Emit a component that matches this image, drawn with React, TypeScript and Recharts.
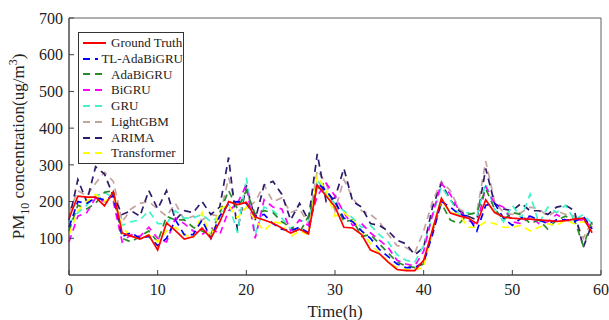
import React from 'react';
import {
  LineChart,
  Line,
  XAxis,
  YAxis,
  ReferenceArea
} from 'recharts';

const hours = Array.from({ length: 60 }, (_, i) => i);

const groundTruth = [155, 215, 212, 212, 188, 227, 114, 106, 98, 109, 68, 142, 121, 98, 104, 128, 100, 145, 200, 192, 198, 158, 150, 141, 128, 114, 125, 112, 245, 215, 186, 130, 128, 110, 68, 58, 35, 15, 12, 12, 40, 123, 209, 169, 161, 155, 140, 205, 170, 158, 155, 153, 152, 150, 148, 146, 148, 152, 155, 115];
const tlAdaBiGRU = [130, 200, 195, 210, 205, 215, 105, 115, 100, 105, 80, 100, 150, 110, 110, 150, 100, 160, 195, 200, 195, 160, 165, 140, 125, 120, 130, 115, 250, 230, 200, 155, 145, 120, 100, 70, 50, 30, 20, 20, 35, 110, 200, 185, 165, 160, 120, 190, 195, 155, 135, 155, 160, 150, 140, 150, 150, 145, 160, 125];
const adaBiGRU = [120, 190, 180, 195, 225, 230, 100, 90, 105, 120, 90, 160, 150, 150, 130, 120, 110, 170, 230, 180, 230, 165, 175, 170, 145, 130, 115, 160, 240, 225, 200, 145, 150, 105, 110, 85, 60, 35, 25, 20, 30, 120, 195, 150, 140, 165, 170, 235, 180, 150, 170, 165, 140, 150, 125, 150, 160, 150, 80, 145];
const biGRU = [90, 160, 170, 210, 200, 200, 90, 110, 105, 130, 100, 90, 155, 140, 120, 110, 130, 110, 175, 195, 245, 100, 205, 185, 180, 120, 150, 135, 215, 250, 215, 170, 135, 140, 115, 95, 75, 40, 30, 25, 65, 165, 250, 220, 175, 150, 135, 240, 195, 185, 145, 140, 160, 140, 145, 165, 150, 150, 150, 130];
const gru = [140, 170, 190, 215, 225, 210, 135, 145, 150, 175, 140, 140, 175, 155, 155, 165, 145, 160, 195, 115, 265, 110, 185, 175, 155, 125, 150, 140, 260, 220, 195, 175, 155, 130, 135, 110, 90, 55, 40, 35, 80, 160, 240, 205, 165, 170, 160, 250, 180, 145, 190, 155, 220, 140, 185, 170, 190, 150, 165, 140];
const lightGBM = [170, 230, 215, 250, 280, 255, 145, 180, 195, 200, 180, 160, 195, 150, 160, 150, 165, 160, 265, 175, 180, 200, 245, 200, 210, 170, 180, 140, 285, 250, 175, 260, 210, 175, 165, 145, 110, 80, 75, 60, 120, 200, 255, 230, 180, 165, 170, 310, 200, 170, 165, 170, 185, 180, 160, 175, 165, 160, 100, 145];
const arima = [150, 260, 200, 295, 275, 215, 165, 175, 160, 230, 180, 230, 150, 175, 170, 200, 165, 185, 320, 120, 245, 150, 245, 255, 220, 150, 195, 150, 330, 200, 210, 290, 200, 185, 140, 135, 120, 95, 85, 55, 75, 185, 250, 205, 175, 160, 150, 290, 195, 180, 175, 195, 175, 175, 165, 185, 190, 175, 75, 140];
const transformer = [110, 175, 200, 220, 200, 215, 130, 105, 100, 110, 90, 120, 130, 110, 100, 170, 100, 180, 190, 155, 185, 150, 120, 145, 140, 105, 120, 110, 270, 230, 160, 170, 150, 120, 85, 60, 35, 20, 15, 15, 20, 130, 205, 170, 165, 130, 130, 145, 140, 130, 130, 135, 120, 130, 140, 135, 150, 140, 145, 135];

const xTicks = [0, 10, 20, 30, 40, 50, 60];
const yTicks = [100, 200, 300, 400, 500, 600, 700];

const series = [
  { key: 'lightGBM', name: 'LightGBM', color: '#c4a49e', values: lightGBM },
  { key: 'arima', name: 'ARIMA', color: '#2e1b6b', values: arima },
  { key: 'gru', name: 'GRU', color: '#3cf5c8', values: gru },
  { key: 'biGRU', name: 'BiGRU', color: '#ff00ff', values: biGRU },
  { key: 'adaBiGRU', name: 'AdaBiGRU', color: '#2a8a2a', values: adaBiGRU },
  { key: 'transformer', name: 'Transformer', color: '#ffff00', values: transformer },
  { key: 'tlAdaBiGRU', name: 'TL-AdaBiGRU', color: '#0000ff', values: tlAdaBiGRU },
];

const legendOrder = [
  { name: 'Ground Truth', color: '#ff0000', dashed: false },
  { name: 'TL-AdaBiGRU', color: '#0000ff', dashed: true },
  { name: 'AdaBiGRU', color: '#2a8a2a', dashed: true },
  { name: 'BiGRU', color: '#ff00ff', dashed: true },
  { name: 'GRU', color: '#3cf5c8', dashed: true },
  { name: 'LightGBM', color: '#c4a49e', dashed: true },
  { name: 'ARIMA', color: '#2e1b6b', dashed: true },
  { name: 'Transformer', color: '#ffff00', dashed: true },
];

const data = hours.map((t, i) => {
  const row: Record<string, number> = { t, groundTruth: groundTruth[i] };
  series.forEach((s) => { row[s.key] = s.values[i]; });
  return row;
});

const FONT = '"Liberation Serif", "Times New Roman", serif';
const AXIS = '#404040';

function LegendBox() {
  return (
    <div style={{
      position: 'absolute', left: 78, top: 32, width: 106, boxSizing: 'border-box',
      border: '1px solid #333', background: '#fff', padding: '2px 0 2px 3px',
      fontFamily: FONT, fontSize: 13, color: '#222', whiteSpace: 'nowrap'
    }}>
      {legendOrder.map((item) => (
        <div key={item.name} style={{ display: 'flex', alignItems: 'center', height: 15.8 }}>
          <svg width={26} height={8}>
            <line x1={1} y1={4} x2={24} y2={4} stroke={item.color} strokeWidth={2} strokeDasharray={item.dashed ? '7 5' : undefined} />
          </svg>
          <span style={{ marginLeft: 3 }}>{item.name}</span>
        </div>
      ))}
    </div>
  );
}

function YLabel(props: any) {
  const vb = props.viewBox || {};
  const cx = 24;
  const cy = vb.y + vb.height / 2;
  return (
    <text x={cx} y={cy} transform={`rotate(-90 ${cx} ${cy})`} textAnchor="middle" fontFamily={FONT} fontSize={17} fill="#222">
      <tspan>PM</tspan>
      <tspan dy={5} fontSize={12}>10</tspan>
      <tspan dy={-5}> concentration(ug/m</tspan>
      <tspan dy={-7} fontSize={12}>3</tspan>
      <tspan dy={7}>)</tspan>
    </text>
  );
}

export default function App() {
  return (
    <div style={{ position: 'absolute', left: 0, top: 0, width: 609, height: 320, background: '#fff' }}>
      <LineChart width={609} height={320} data={data} margin={{ top: 18, right: 8, left: 0, bottom: 0 }}>
        <XAxis
          dataKey="t"
          type="number"
          domain={[0, 60]}
          ticks={xTicks}
          stroke={AXIS}
          tickSize={-5}
          tickMargin={14}
          height={45}
          tick={{ fontSize: 16, fill: '#222', fontFamily: FONT }}
          label={{ value: 'Time(h)', position: 'insideBottom', offset: 3, fontSize: 17, fill: '#222', fontFamily: FONT }}
        />
        <YAxis
          type="number"
          domain={[0, 700]}
          ticks={yTicks}
          stroke={AXIS}
          tickSize={-5}
          tickMargin={11}
          width={69}
          tick={{ fontSize: 16, fill: '#222', fontFamily: FONT }}
          label={(p: any) => <YLabel {...p} />}
        />
        <ReferenceArea x1={0} x2={60} y1={0} y2={700} fill="none" stroke="#606060" strokeWidth={1} />
        {series.map((s) => (
          <Line
            key={s.key}
            dataKey={s.key}
            name={s.name}
            stroke={s.color}
            strokeWidth={1.7}
            strokeDasharray="7 5"
            dot={false}
            isAnimationActive={false}
          />
        ))}
        <Line dataKey="groundTruth" name="Ground Truth" stroke="#ff0000" strokeWidth={1.7} dot={false} isAnimationActive={false} />
      </LineChart>
      <LegendBox />
    </div>
  );
}
